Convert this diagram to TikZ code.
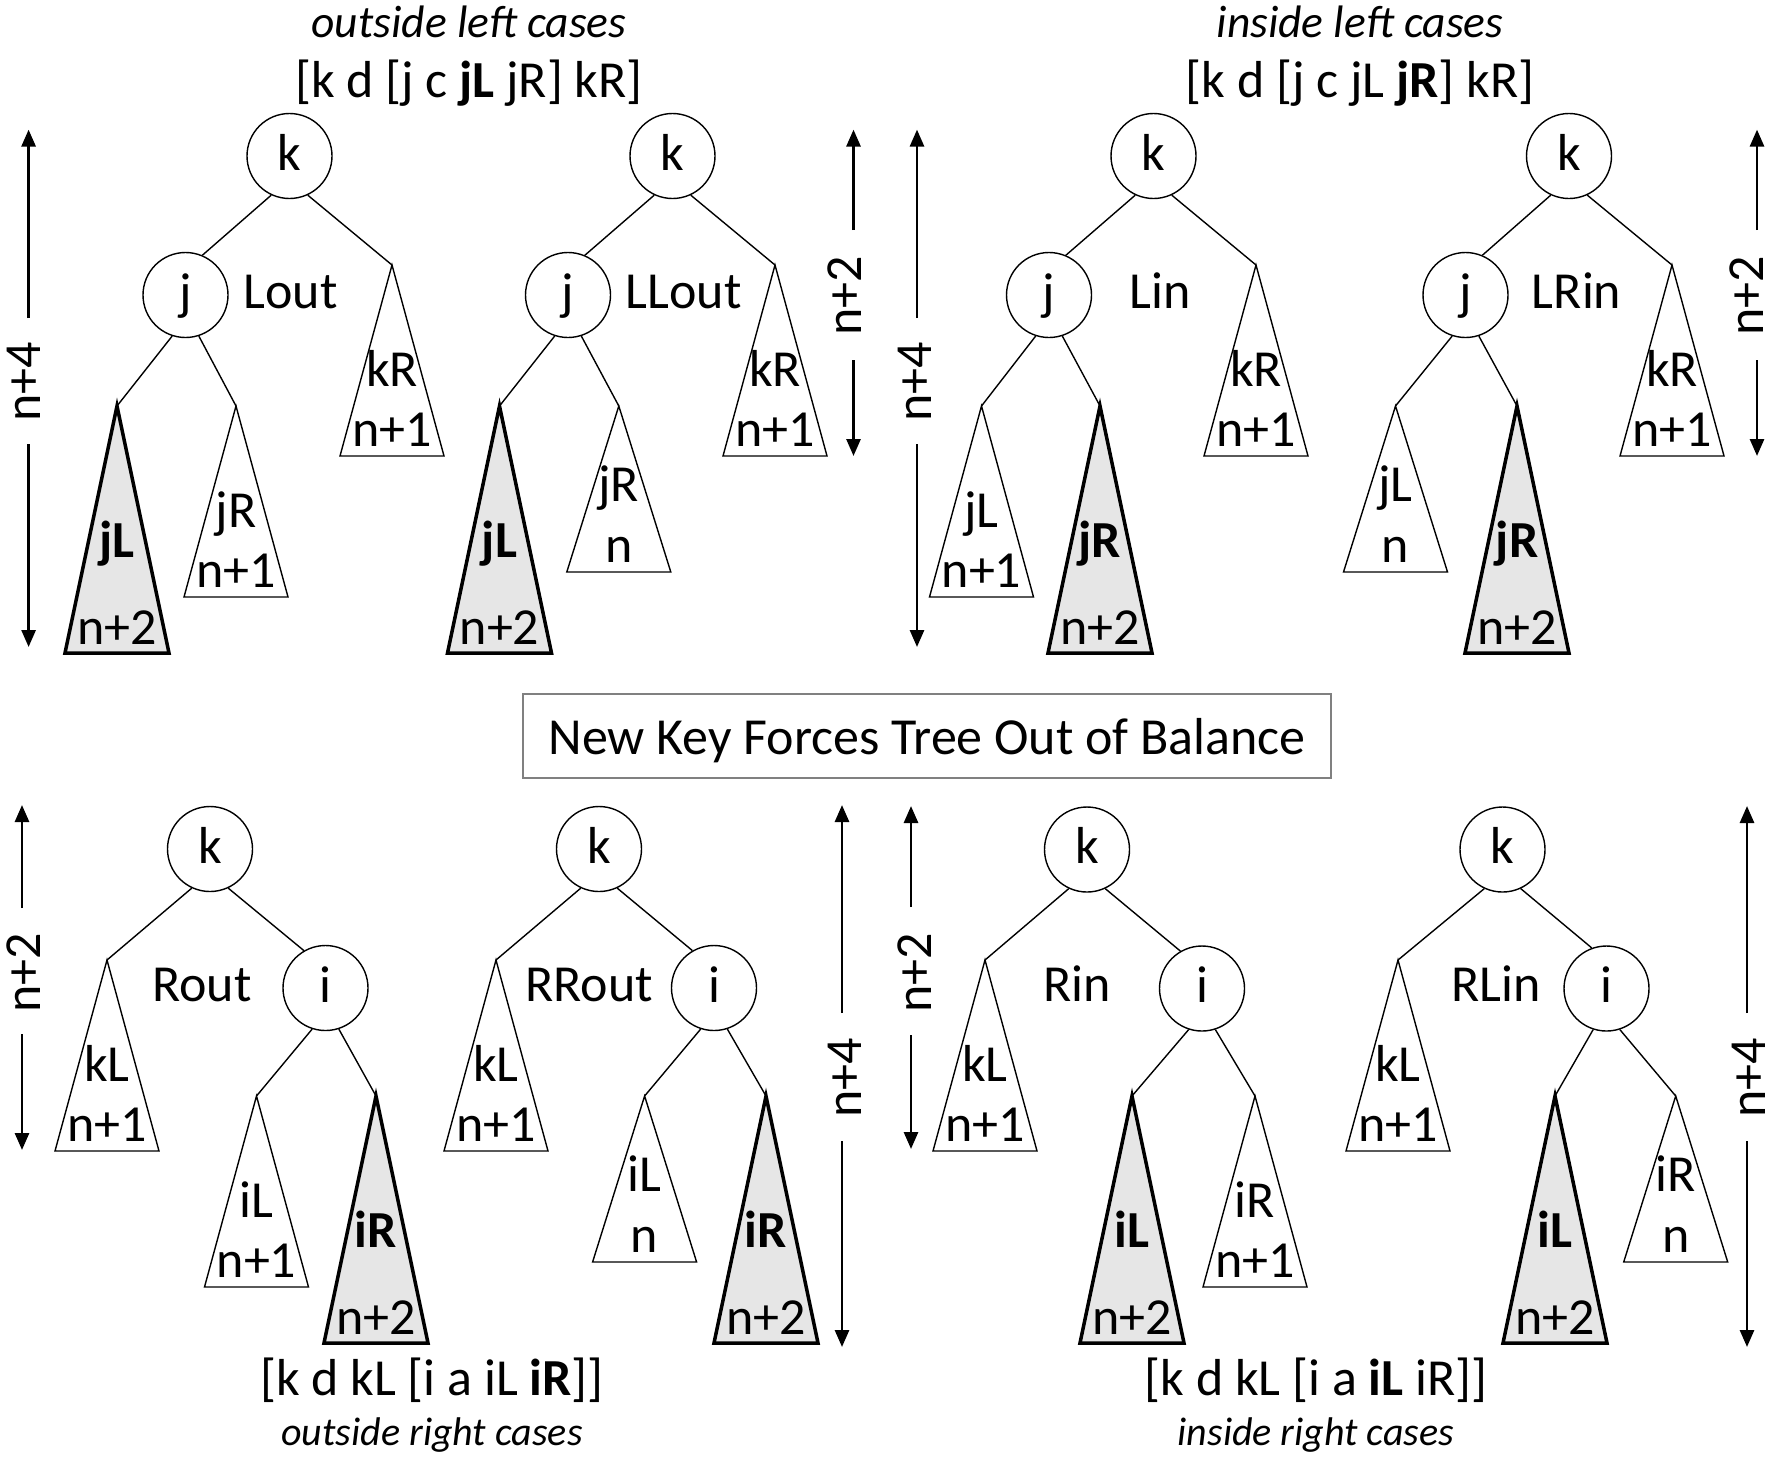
\documentclass[tikz,border=0pt]{standalone}
\usepackage{fontspec}
\setmainfont{Carlito}
\usetikzlibrary{arrows.meta}
\definecolor{shade}{RGB}{230,230,230}
\definecolor{boxgray}{RGB}{128,128,128}
% generic subtree: #1 name, #2 x, #3 y (apex), #4 height, #5 style, #6 off1, #7 off2, #8 label1, #9 label2
\newcommand\subt[9]{%
  \coordinate (#1) at (#2,#3);
  \draw[#5] (#1) -- ++(-52,#4) -- ++(104,0) -- cycle;
  \node[lab, anchor=base] (#1a) at (#2,{#3+#6}) {#8};
  \node[lab, anchor=base] (#1b) at (#2,{#3+#7}) {#9};
}
\newcommand\wt[5]{\subt{#1}{#2}{#3}{191}{wtri}{121}{181}{#4}{#5}}
\newcommand\st[5]{\subt{#1}{#2}{#3}{166}{wtri}{95}{156}{#4}{#5}}
\newcommand\gt[5]{\subt{#1}{#2}{#3}{247}{gtri}{151}{238}{\textbf{#4}}{#5}}
% height arrow: #1 name, #2 x, #3 top tip, #4 gap top, #5 gap bottom, #6 bottom tip, #7 label position, #8 label
\newcommand\harr[8]{%
  \coordinate (#1t) at (#2,#3);
  \coordinate (#1u) at (#2,#4);
  \coordinate (#1d) at (#2,#5);
  \coordinate (#1b) at (#2,#6);
  \draw[arr] (#1u) -- (#1t);
  \draw[arr] (#1d) -- (#1b);
  \node[rlab] (#1l) at (#7) {#8};
}
\begin{document}
\begin{tikzpicture}[x=1pt,y=-1pt,
  lab/.style={font=\fontsize{52}{60}\selectfont, inner sep=0pt},
  rlab/.style={font=\fontsize{52}{60}\selectfont, inner sep=0pt, rotate=90, text height=33pt, text depth=0pt},
  circ/.style={circle, draw, line width=1.4pt, fill=white, minimum size=85pt, inner sep=0pt,
    font=\fontsize{52}{60}\selectfont, text height=36pt, text depth=8pt},
  edge/.style={line width=1.4pt},
  wtri/.style={draw, line width=1.4pt, fill=white, line join=miter},
  gtri/.style={draw, line width=3.5pt, fill=shade, line join=miter},
  arr/.style={line width=2.8pt, -{Triangle[length=17pt,width=14pt]}},
  ttl/.style={font=\fontsize{45.5}{52}\selectfont\itshape, inner sep=0pt, anchor=base},
  bttl/.style={font=\fontsize{40}{46}\selectfont\itshape, inner sep=0pt, anchor=base},
  brk/.style={font=\fontsize{52}{60}\selectfont, inner sep=0pt, anchor=base},
  casel/.style={font=\fontsize{52}{60}\selectfont, inner sep=0pt, anchor=base}
]
\useasboundingbox (0,0) rectangle (1779,1462);

% ---------- titles ----------
\node[ttl] (tt1) at (469,37) {outside left cases};
\node[brk] (tb1) at (469,97.6) {[k d [j c \textbf{jL} jR] kR]};
\node[ttl] (tt2) at (1360,37) {inside left cases};
\node[brk] (tb2) at (1360,97.6) {[k d [j c jL \textbf{jR}] kR]};
\node[brk] (bb1) at (432,1395) {[k d kL [i a iL \textbf{iR}]]};
\node[bttl] (bt1) at (432,1445) {outside right cases};
\node[brk] (bb2) at (1316,1395) {[k d kL [i a \textbf{iL} iR]]};
\node[bttl] (bt2) at (1316,1445) {inside right cases};

% ---------- middle box ----------
\node[draw=boxgray, line width=2pt, minimum width=808pt, minimum height=84pt, inner sep=0pt,
  font=\fontsize{52}{60}\selectfont, text height=36pt, text depth=0pt] (mid) at (927,736)
  {New Key Forces Tree Out of Balance};

% ---------- T1: Lout ----------
\node[circ] (k1) at (289.5,156) {k};
\node[circ] (j1) at (185.5,295) {j};
\node[casel] (c1) at (290.7,308) {Lout};
\gt{jL1}{117}{406}{jL}{n+2}
\wt{jR1}{236}{406}{jR}{n+1}
\wt{kR1}{392}{265}{kR}{n+1}
\draw[edge] (k1.245) -- (j1.67);
\draw[edge] (k1.295) -- (kR1);
\draw[edge] (j1.252) -- (jL1);
\draw[edge] (j1.288) -- (jR1);
\harr{A1}{28.6}{129.6}{318}{444}{647}{23.5,382}{n+4}

% ---------- T2: LLout ----------
\node[circ] (k2) at (672.5,156) {k};
\node[circ] (j2) at (568,295) {j};
\node[casel] (c2) at (683.6,308) {LLout};
\gt{jL2}{499.5}{406}{jL}{n+2}
\st{jR2}{618.8}{406}{jR}{n}
\wt{kR2}{775}{265}{kR}{n+1}
\draw[edge] (k2.245) -- (j2.67);
\draw[edge] (k2.295) -- (kR2);
\draw[edge] (j2.252) -- (jL2);
\draw[edge] (j2.288) -- (jR2);
\harr{A2}{853.5}{129.6}{230}{360}{456}{845,296}{n+2}

% ---------- T3: Lin ----------
\node[circ] (k3) at (1153.5,156) {k};
\node[circ] (j3) at (1049,295) {j};
\node[casel] (c3) at (1160.3,308) {Lin};
\wt{jL3}{981.5}{406}{jL}{n+1}
\gt{jR3}{1100}{406}{jR}{n+2}
\wt{kR3}{1256}{265}{kR}{n+1}
\draw[edge] (k3.245) -- (j3.67);
\draw[edge] (k3.295) -- (kR3);
\draw[edge] (j3.252) -- (jL3);
\draw[edge] (j3.288) -- (jR3);
\harr{A3}{917}{129.6}{318}{444}{647}{915,382}{n+4}

% ---------- T4: LRin ----------
\node[circ] (k4) at (1569,156) {k};
\node[circ] (j4) at (1465.5,295) {j};
\node[casel] (c4) at (1576.6,308) {LRin};
\st{jL4}{1395.5}{406}{jL}{n}
\gt{jR4}{1517}{406}{jR}{n+2}
\wt{kR4}{1672}{265}{kR}{n+1}
\draw[edge] (k4.245) -- (j4.67);
\draw[edge] (k4.295) -- (kR4);
\draw[edge] (j4.252) -- (jL4);
\draw[edge] (j4.288) -- (jR4);
\harr{A4}{1757}{129.6}{230}{360}{456}{1747,296}{n+2}

% ---------- T5: Rout ----------
\node[circ] (k5) at (210,849) {k};
\node[circ] (i5) at (325.5,988) {i};
\node[casel] (c5) at (202,1001) {Rout};
\wt{kL5}{107}{960}{kL}{n+1}
\wt{iL5}{256.5}{1096}{iL}{n+1}
\gt{iR5}{376}{1096}{iR}{n+2}
\draw[edge] (k5.245) -- (kL5);
\draw[edge] (k5.295) -- (i5.120);
\draw[edge] (i5.252) -- (iL5);
\draw[edge] (i5.288) -- (iR5);
\harr{A5}{22}{805}{908}{1034}{1150}{23.5,973}{n+2}

% ---------- T6: RRout ----------
\node[circ] (k6) at (599,849) {k};
\node[circ] (i6) at (714,988) {i};
\node[casel] (c6) at (589,1001) {RRout};
\wt{kL6}{496}{960}{kL}{n+1}
\st{iL6}{644.6}{1096}{iL}{n}
\gt{iR6}{766}{1096}{iR}{n+2}
\draw[edge] (k6.245) -- (kL6);
\draw[edge] (k6.295) -- (i6.120);
\draw[edge] (i6.252) -- (iL6);
\draw[edge] (i6.288) -- (iR6);
\harr{A6}{842}{805}{1013}{1141}{1347}{845,1078}{n+4}

% ---------- T7: Rin ----------
\node[circ] (k7) at (1087,849.5) {k};
\node[circ] (i7) at (1202,988.5) {i};
\node[casel] (c7) at (1077,1001) {Rin};
\wt{kL7}{985}{960}{kL}{n+1}
\gt{iL7}{1132}{1096}{iL}{n+2}
\wt{iR7}{1255}{1096}{iR}{n+1}
\draw[edge] (k7.245) -- (kL7);
\draw[edge] (k7.295) -- (i7.120);
\draw[edge] (i7.252) -- (iL7);
\draw[edge] (i7.288) -- (iR7);
\harr{A7}{911}{806}{907}{1035}{1149}{915,973}{n+2}

% ---------- T8: RLin ----------
\node[circ] (k8) at (1502.5,849.5) {k};
\node[circ] (i8) at (1606.5,988.5) {i};
\node[casel] (c8) at (1496.3,1001) {RLin};
\wt{kL8}{1398}{960}{kL}{n+1}
\gt{iL8}{1555}{1096}{iL}{n+2}
\st{iR8}{1675.7}{1096}{iR}{n}
\draw[edge] (k8.245) -- (kL8);
\draw[edge] (k8.295) -- (i8.110);
\draw[edge] (i8.252) -- (iL8);
\draw[edge] (i8.288) -- (iR8);
\harr{A8}{1747}{806}{1013}{1141}{1347}{1749,1078}{n+4}
\end{tikzpicture}
\end{document}
